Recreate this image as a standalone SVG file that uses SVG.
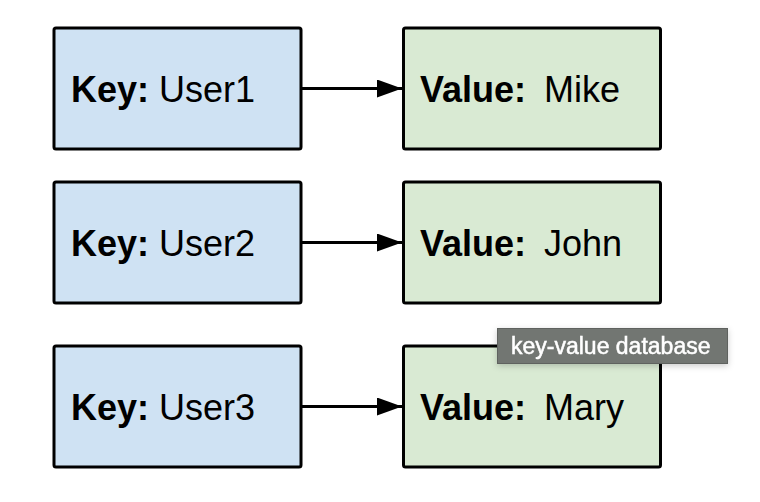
<svg xmlns="http://www.w3.org/2000/svg" width="760" height="502" viewBox="0 0 760 502">
  <defs>
    <style>
      .key { fill: #cfe2f3; stroke: #000; stroke-width: 3; }
      .val { fill: #d9ead3; stroke: #000; stroke-width: 3; }
      .lbl { font-family: "Liberation Sans", Arial, sans-serif; font-size: 36px; fill: #000; }
      .b { font-weight: bold; }
      .conn { stroke: #000; stroke-width: 3; fill: none; }
      .tip { fill: #727672; stroke: #5e625e; stroke-width: 1; }
      .tiptext { font-family: "Liberation Sans", Arial, sans-serif; font-size: 23px; fill: #fff; stroke: #fff; stroke-width: 0.5; }
    </style>
    <marker id="arrow" markerUnits="userSpaceOnUse" markerWidth="25" markerHeight="18" refX="25" refY="9" orient="auto">
      <path d="M0,0 L25,9 L0,18 Z" fill="#000"/>
    </marker>
    <filter id="shadow" x="-10%" y="-30%" width="120%" height="170%">
      <feDropShadow dx="0" dy="2" stdDeviation="3" flood-color="#000" flood-opacity="0.2"/>
    </filter>
  </defs>
  <rect width="760" height="502" fill="#fff"/>

  <g id="connectors">
    <line class="conn" x1="301" y1="88.5" x2="402" y2="88.5" marker-end="url(#arrow)"/>
    <line class="conn" x1="301" y1="242.5" x2="402" y2="242.5" marker-end="url(#arrow)"/>
    <line class="conn" x1="301" y1="406.5" x2="402" y2="406.5" marker-end="url(#arrow)"/>
  </g>

  <g id="key1">
    <rect class="key" x="54" y="28" width="247" height="121" rx="2"/>
    <text class="lbl" x="71" y="101.5"><tspan class="b">Key:</tspan> User1</text>
  </g>
  <g id="value1">
    <rect class="val" x="403.5" y="28" width="257" height="121" rx="2"/>
    <text class="lbl" x="420" y="101.5"><tspan class="b">Value:</tspan><tspan dx="8"> Mike</tspan></text>
  </g>

  <g id="key2">
    <rect class="key" x="54" y="182" width="247" height="121" rx="2"/>
    <text class="lbl" x="71" y="255.5"><tspan class="b">Key:</tspan> User2</text>
  </g>
  <g id="value2">
    <rect class="val" x="403.5" y="182" width="257" height="121" rx="2"/>
    <text class="lbl" x="420" y="255.5"><tspan class="b">Value:</tspan><tspan dx="8"> John</tspan></text>
  </g>

  <g id="key3">
    <rect class="key" x="54" y="346" width="247" height="121" rx="2"/>
    <text class="lbl" x="71" y="419.5"><tspan class="b">Key:</tspan> User3</text>
  </g>
  <g id="value3">
    <rect class="val" x="403.5" y="346" width="257" height="121" rx="2"/>
    <text class="lbl" x="420" y="419.5"><tspan class="b">Value:</tspan><tspan dx="8"> Mary</tspan></text>
  </g>

  <g id="tooltip" filter="url(#shadow)">
    <rect class="tip" x="497.5" y="328.5" width="230" height="35"/>
    <text class="tiptext" x="511" y="353.5">key-value database</text>
  </g>
</svg>
